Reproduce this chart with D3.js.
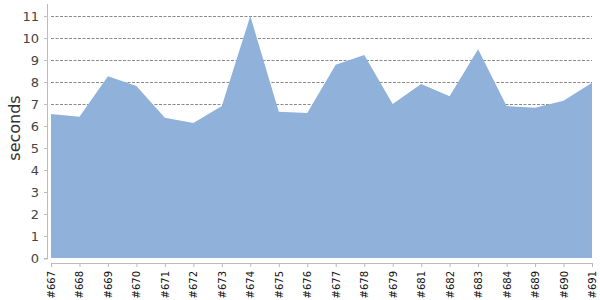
<!DOCTYPE html>
<html>
<head>
<meta charset="utf-8">
<script src="https://cdn.jsdelivr.net/npm/d3@7"></script>
<style>
  body { margin: 0; background: #fff; }
  text { font-family: "DejaVu Sans", sans-serif; }
</style>
</head>
<body>
<script>
var builds = ["#667","#668","#669","#670","#671","#672","#673","#674","#675","#676",
              "#677","#678","#679","#681","#682","#683","#684","#689","#690","#691"];
var seconds = [6.55, 6.42, 8.27, 7.82, 6.38, 6.14, 6.91, 11.0, 6.65, 6.59,
               8.79, 9.23, 7.0, 7.91, 7.36, 9.49, 6.91, 6.83, 7.15, 7.97];
var yTicks = [0,1,2,3,4,5,6,7,8,9,10,11];

var margin = {top: 4, right: 8, bottom: 42, left: 51},
    width = 600 - margin.left - margin.right,
    height = 300 - margin.top - margin.bottom;

var svg = d3.select("body").append("svg")
    .attr("width", 600)
    .attr("height", 300)
  .append("g")
    .attr("transform", "translate(" + margin.left + "," + margin.top + ")");

var x = d3.scalePoint().domain(builds).range([0, width]);
var y = d3.scaleLinear().domain([0, 11.55]).range([height, 0]);

// grid lines
svg.selectAll(".grid")
    .data(yTicks.slice(1))
  .enter().append("line")
    .attr("x1", 0).attr("x2", width)
    .attr("y1", function(d) { return Math.round(y(d)) + 0.5; })
    .attr("y2", function(d) { return Math.round(y(d)) + 0.5; })
    .attr("stroke", "#8a8a8a")
    .attr("stroke-dasharray", "3,1.5");

var area = d3.area()
    .x(function(d, i) { return x(builds[i]); })
    .y0(y(0))
    .y1(function(d) { return y(d); });

svg.append("path")
    .datum(seconds)
    .attr("fill", "#8fb1da")
    .attr("d", area);

// y axis
var yAxis = svg.append("g")
    .attr("transform", "translate(-4,0)")
    .call(d3.axisLeft(y).tickValues(yTicks).tickSize(3).tickPadding(5).tickFormat(d3.format("d")));
yAxis.select(".domain").attr("stroke", "#bbb").attr("d", "M0.5,0V" + (height + 1) + "H-3");
yAxis.selectAll(".tick line").attr("stroke", "#bbb");
yAxis.selectAll(".tick text")
    .attr("fill", "#444")
    .style("font-size", "13px");

// x axis
var xAxis = svg.append("g")
    .attr("transform", "translate(0," + (height + 5) + ")")
    .call(d3.axisBottom(x).tickSize(4).tickSizeOuter(0));
xAxis.select(".domain").attr("stroke", "#bbb");
xAxis.selectAll(".tick line").attr("stroke", "#bbb");
xAxis.selectAll(".tick text")
    .attr("fill", "#111")
    .style("font-size", "10px")
    .style("text-anchor", "end")
    .attr("x", -8)
    .attr("y", 0)
    .attr("dy", "0.35em")
    .attr("transform", "rotate(-90)");

svg.append("text")
    .attr("transform", "rotate(-90)")
    .attr("x", -(128 - margin.top))
    .attr("y", 20 - margin.left)
    .style("text-anchor", "middle")
    .style("font-size", "16px")
    .attr("fill", "#333")
    .text("seconds");
</script>
</body>
</html>
